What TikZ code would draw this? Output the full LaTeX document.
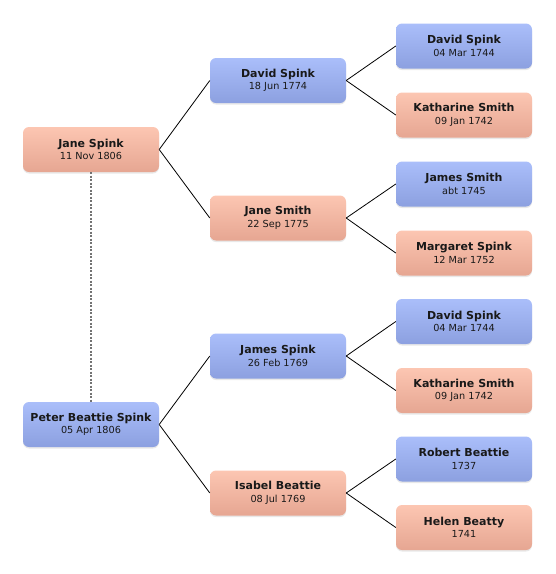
\documentclass[tikz,border=0pt]{standalone}
\usepackage{fontspec}
\setmainfont{DejaVu Sans}
\usetikzlibrary{shadows,calc}
\definecolor{pinktop}{RGB}{252,198,178}
\definecolor{pinkbot}{RGB}{230,166,146}
\definecolor{bluetop}{RGB}{170,190,250}
\definecolor{bluebot}{RGB}{140,160,224}
\tikzset{
  person/.style={rounded corners=6pt, minimum width=136pt, minimum height=45pt,
    inner sep=0pt, align=center, text=black!90,
    drop shadow={shadow xshift=0pt, shadow yshift=-1.5pt, opacity=0.18}},
  male/.style={person, top color=bluetop, bottom color=bluebot},
  female/.style={person, top color=pinktop, bottom color=pinkbot},
  link/.style={draw=black, line width=0.8pt},
  spouse/.style={draw=black!55, line width=1.3pt, dash pattern=on 2pt off 1.5pt},
}
\newcommand{\pp}[2]{{\fontsize{11}{13}\selectfont\bfseries #1}\\[0.5pt]{\fontsize{9.7}{11}\selectfont #2}}
\begin{document}
\begin{tikzpicture}[x=1pt,y=-1pt]
\useasboundingbox (0,0) rectangle (556,574);
% column 1
\node[female] (janespink) at (91,149.5) {\pp{Jane Spink}{11 Nov 1806}};
\node[male] (peter) at (91,424.5) {\pp{Peter Beattie Spink}{05 Apr 1806}};
% column 2
\node[male] (david1) at (278,80.5) {\pp{David Spink}{18 Jun 1774}};
\node[female] (janesmith) at (278,218) {\pp{Jane Smith}{22 Sep 1775}};
\node[male] (james) at (278,356) {\pp{James Spink}{26 Feb 1769}};
\node[female] (isabel) at (278,493) {\pp{Isabel Beattie}{08 Jul 1769}};
% column 3
\node[male] (david2) at (464,46) {\pp{David Spink}{04 Mar 1744}};
\node[female] (kath1) at (464,115) {\pp{Katharine Smith}{09 Jan 1742}};
\node[male] (jamessmith) at (464,184) {\pp{James Smith}{abt 1745}};
\node[female] (margaret) at (464,253) {\pp{Margaret Spink}{12 Mar 1752}};
\node[male] (david3) at (464,321.5) {\pp{David Spink}{04 Mar 1744}};
\node[female] (kath2) at (464,390.5) {\pp{Katharine Smith}{09 Jan 1742}};
\node[male] (robert) at (464,459) {\pp{Robert Beattie}{1737}};
\node[female] (helen) at (464,527.5) {\pp{Helen Beatty}{1741}};
% connectors
\draw[link] (janespink.east) -- (david1.west);
\draw[link] (janespink.east) -- (janesmith.west);
\draw[link] (peter.east) -- (james.west);
\draw[link] (peter.east) -- (isabel.west);
\draw[link] (david1.east) -- (david2.west);
\draw[link] (david1.east) -- (kath1.west);
\draw[link] (janesmith.east) -- (jamessmith.west);
\draw[link] (janesmith.east) -- (margaret.west);
\draw[link] (james.east) -- (david3.west);
\draw[link] (james.east) -- (kath2.west);
\draw[link] (isabel.east) -- (robert.west);
\draw[link] (isabel.east) -- (helen.west);
\draw[spouse] (janespink.south) -- (peter.north);
\end{tikzpicture}
\end{document}
